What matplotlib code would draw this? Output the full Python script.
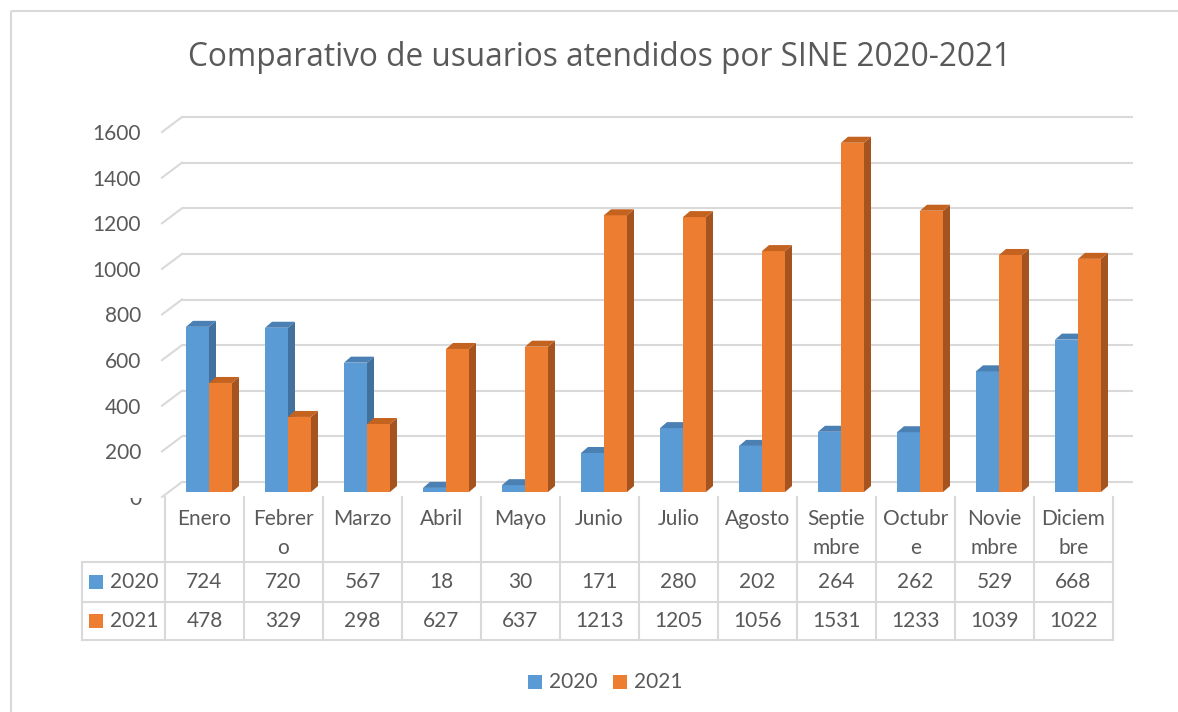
import matplotlib
matplotlib.use('Agg')
import matplotlib.pyplot as plt
from matplotlib import transforms
from matplotlib.patches import Rectangle, Polygon

W, H = 1178, 712

meses = ['Enero', 'Febrero', 'Marzo', 'Abril', 'Mayo', 'Junio', 'Julio',
         'Agosto', 'Septiembre', 'Octubre', 'Noviembre', 'Diciembre']
# como se ven cortados en la tabla
etiquetas = ['Enero', 'Febrer\no', 'Marzo', 'Abril', 'Mayo', 'Junio', 'Julio',
             'Agosto', 'Septie\nmbre', 'Octubr\ne', 'Novie\nmbre', 'Diciem\nbre']
v2020 = [724, 720, 567, 18, 30, 171, 280, 202, 264, 262, 529, 668]
v2021 = [478, 329, 298, 627, 637, 1213, 1205, 1056, 1531, 1233, 1039, 1022]
yticks = [0, 200, 400, 600, 800, 1000, 1200, 1400, 1600]

series = [('2020', v2020, '#5B9BD5', '#41719C', '#4A80B3'),
          ('2021', v2021, '#ED7D31', '#A5531F', '#C4621F')]

TXT = '#595959'
GRID = '#D9D9D9'
plt.rcParams['font.family'] = ['Lato', 'DejaVu Sans']

fig = plt.figure(figsize=(W / 100, H / 100), dpi=100)
ax = fig.add_axes([165 / W, 220 / H, 948 / W, 365 / H])
ax.set_xlim(-0.5, len(meses) - 0.5)
ax.set_ylim(0, 1600)
ax.axis('off')

# pixel helpers (origen arriba-izquierda)
px = transforms.Affine2D().scale(1, -1).translate(0, H)
tab = transforms.blended_transform_factory(ax.transData, px)
ylab = transforms.blended_transform_factory(px, ax.transData)

ux = 948 / len(meses)
uy = 365 / 1600

# marco del grafico
fig.add_artist(Rectangle((11, 11), W, H, transform=px, fill=False,
                         edgecolor=GRID, lw=1.5))

fig.text(600, 58, 'Comparativo de usuarios atendidos por SINE 2020-2021',
         transform=px, ha='center', va='center', fontsize=22.8,
         color=TXT, family=['Open Sans', 'DejaVu Sans'])

# paredes / lineas de cuadricula
x_front = -0.5 - 3 / ux
back = transforms.offset_copy(ax.transData, fig, x=20, y=10, units='dots')
front = transforms.offset_copy(ax.transData, fig, x=0, y=-5, units='dots')
for v in yticks:
    ax.plot([x_front, len(meses) - 0.5], [v, v], transform=back,
            color=GRID, lw=1.5, zorder=1, clip_on=False, solid_capstyle='butt')
    p0 = front.transform((x_front, v))
    p1 = back.transform((x_front, v))
    ax.plot([p0[0], p1[0]], [p0[1], p1[1]], transform=None,
            color=GRID, lw=1.5, zorder=1, clip_on=False)
    t = fig.text(141, v, str(v), transform=transforms.offset_copy(
        ylab, fig, x=0, y=-7, units='dots'), ha='right', va='center',
        fontsize=15, color=TXT)
    if v == 0:
        # el "0" queda medio tapado por la tabla
        t.set_clip_on(True)
        t.set_clip_box(transforms.Bbox([[0, 0], [W, H - 498]]))

# barras 3D
bw = 23 / ux
shift = 4.5 / ux
ddx = 7 / ux
ddy = 6 / uy
for k, (name, vals, c_front, c_side, c_top) in enumerate(series):
    xs = [i + shift + (k - 0.5) * bw for i in range(len(meses))]
    bars = ax.bar(xs, vals, width=bw, color=c_front, lw=0, zorder=3 + k)
    for b in bars:
        x0, x1, h = b.get_x(), b.get_x() + b.get_width(), b.get_height()
        ax.add_patch(Polygon([(x1, 0), (x1 + ddx, ddy), (x1 + ddx, h + ddy), (x1, h)],
                             closed=True, color=c_side, lw=0, zorder=3 + k))
        ax.add_patch(Polygon([(x0, h), (x1, h), (x1 + ddx, h + ddy), (x0 + ddx, h + ddy)],
                             closed=True, color=c_top, lw=0, zorder=3 + k))

# tabla de datos
x_left = -0.5 - 83 / ux
for j in range(len(meses) + 1):
    ax.plot([j - 0.5, j - 0.5], [497, 640], transform=tab, color=GRID,
            lw=1.5, clip_on=False)
ax.plot([x_left, x_left], [562, 640], transform=tab, color=GRID, lw=1.5, clip_on=False)
for yy in [562, 602, 640]:
    ax.plot([x_left, len(meses) - 0.5], [yy, yy], transform=tab, color=GRID,
            lw=1.5, clip_on=False, solid_capstyle='projecting')

for i, lab in enumerate(etiquetas):
    for n, line in enumerate(lab.split('\n')):
        ax.text(i, 519 + 29 * n, line, transform=tab, ha='center', va='center',
                fontsize=15, color=TXT)

row_y = [582, 621]
for (name, vals, c_front, c_side, c_top), yy in zip(series, row_y):
    fig.add_artist(Rectangle((89, yy - 7), 14, 14, transform=px,
                             color=c_front, lw=0))
    fig.text(110, yy, name, transform=px, ha='left', va='center',
             fontsize=15, color=TXT)
    for i, v in enumerate(vals):
        ax.text(i, yy, str(v), transform=tab, ha='center', va='center',
                fontsize=15, color=TXT)

# leyenda
for (name, vals, c_front, c_side, c_top), lx in zip(series, [528, 613]):
    fig.add_artist(Rectangle((lx, 675), 14, 14, transform=px,
                             color=c_front, lw=0))
    fig.text(lx + 21, 682, name, transform=px, ha='left', va='center',
             fontsize=15, color=TXT)

fig.savefig('out.png', dpi=100, facecolor='white')
